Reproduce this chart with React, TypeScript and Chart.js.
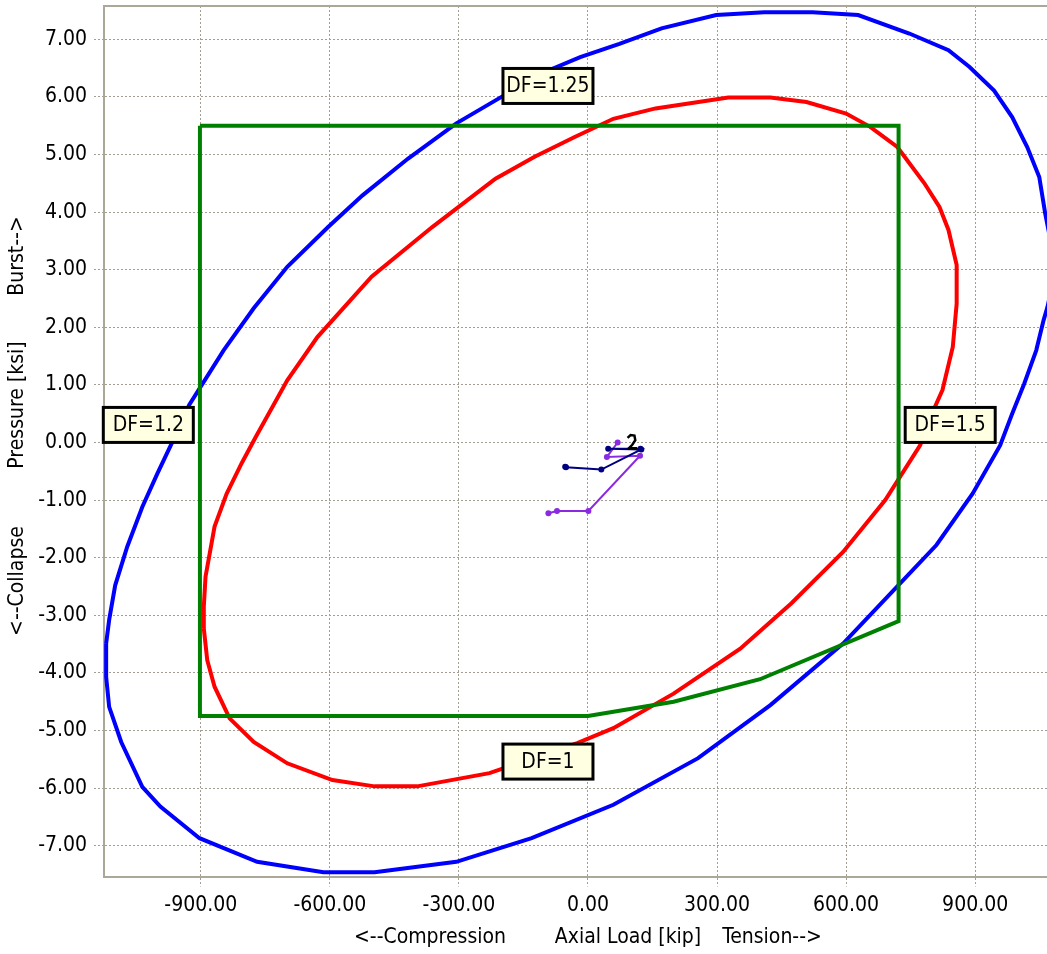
import React, { useEffect, useRef } from 'react';
import { Chart, registerables } from 'chart.js';

Chart.register(...registerables);

// ---------- axis ticks / ranges ----------
const xTicks = [-900, -600, -300, 0, 300, 600, 900];
const yTicks = [-7, -6, -5, -4, -3, -2, -1, 0, 1, 2, 3, 4, 5, 6, 7];
const xMin = -1125;
const xMax = 1067;
const yMin = -7.535;
const yMax = 7.578;

// ---------- series ----------
const blueEnvelope: [number, number][] = [
  [-1120, -3.49], [-1113, -3.08], [-1099, -2.48], [-1071, -1.81], [-1036, -1.12], [-1001, -0.54],
  [-966, 0.01], [-927, 0.65], [-847, 1.6], [-777, 2.33], [-699, 3.05], [-604, 3.74], [-524, 4.29],
  [-418, 4.93], [-306, 5.54], [-201, 6.0], [-117, 6.38], [-18, 6.69], [73, 6.92], [171, 7.19],
  [298, 7.42], [410, 7.47], [522, 7.47], [628, 7.42], [747, 7.1], [838, 6.81], [887, 6.52],
  [944, 6.11], [986, 5.65], [1021, 5.13], [1049, 4.61], [1063, 3.97], [1078, 3.4], [1081, 2.8],
  [1068, 2.35], [1059, 2.12], [1042, 1.6], [1014, 1.02], [986, 0.5], [958, -0.05], [894, -0.89],
  [810, -1.78], [719, -2.5], [593, -3.49], [424, -4.56], [256, -5.48], [59, -6.29], [-131, -6.87],
  [-306, -7.28], [-496, -7.46], [-615, -7.46], [-769, -7.28], [-903, -6.87], [-994, -6.32],
  [-1036, -5.98], [-1085, -5.2], [-1113, -4.59], [-1120, -4.07], [-1120, -3.49],
];

const redEnvelope: [number, number][] = [
  [-893, -3.23], [-893, -2.85], [-889, -2.33], [-868, -1.46], [-840, -0.89], [-805, -0.36],
  [-772, 0.1], [-699, 1.08], [-629, 1.83], [-503, 2.88], [-362, 3.74], [-215, 4.58], [-124, 4.96],
  [-32, 5.3], [59, 5.62], [157, 5.8], [326, 5.99], [424, 5.99], [508, 5.91], [600, 5.71],
  [656, 5.48], [719, 5.13], [782, 4.5], [817, 4.09], [838, 3.69], [857, 3.08], [857, 2.41],
  [848, 1.66], [824, 0.91], [803, 0.56], [772, -0.05], [691, -1.0], [593, -1.9], [473, -2.79],
  [354, -3.58], [199, -4.36], [59, -4.96], [-25, -5.22], [-229, -5.74], [-397, -5.97],
  [-496, -5.97], [-594, -5.86], [-699, -5.57], [-777, -5.2], [-833, -4.79], [-868, -4.24],
  [-885, -3.78], [-893, -3.23],
];

const greenLimits: [number, number][] = [
  [-902, 5.5], [722, 5.5], [722, -3.1], [400, -4.11], [199, -4.5], [0, -4.75], [-902, -4.75], [-902, 5.5],
];

const navyLoads: [number, number][] = [
  [-53, -0.42], [-51, -0.43], [31, -0.47], [124, -0.12], [47, -0.11], [122, -0.11],
];

const purpleLoads: [number, number][] = [
  [69, 0.0], [44, -0.25], [121, -0.23], [1, -1.19], [-72, -1.19], [-92, -1.23],
];

const blackMark: [number, number][] = [
  [92, 0.08], [99, 0.13], [108, 0.12], [110, 0.04], [103, -0.04], [95, -0.1], [114, -0.1],
];

// ---------- annotation labels ----------
const dfLabels = ['DF=1.25', 'DF=1.2', 'DF=1.5', 'DF=1'];
const dfLabelX = [-93, -1022, 842, -93];
const dfLabelY = [6.19, 0.305, 0.305, -5.54];

const xTitleParts = ['<--Compression', 'Axial Load [kip]', 'Tension-->'];
const yTitleParts = ['<--Collapse', 'Pressure [ksi]', 'Burst-->'];

const FONT = '"DejaVu Sans Condensed", "DejaVu Sans", sans-serif';
const GRID = '#A29E92';
const AXIS = '#ACA899';

const toPts = (a: [number, number][]) => a.map(([x, y]) => ({ x, y }));

const decorPlugin = {
  id: 'decor',
  afterDatasetsDraw(chart: any) {
    const { ctx, chartArea, scales } = chart;
    ctx.save();
    // top border
    ctx.strokeStyle = AXIS;
    ctx.lineWidth = 2;
    ctx.beginPath();
    ctx.moveTo(chartArea.left, chartArea.top);
    ctx.lineTo(chartArea.right, chartArea.top);
    ctx.stroke();

    // DF labels
    ctx.font = `21px ${FONT}`;
    ctx.textAlign = 'center';
    ctx.textBaseline = 'middle';
    dfLabels.forEach((t, i) => {
      const cx = scales.x.getPixelForValue(dfLabelX[i]);
      const cy = scales.y.getPixelForValue(dfLabelY[i]);
      const w = 90, h = 35;
      ctx.fillStyle = '#FFFFE1';
      ctx.fillRect(cx - w / 2, cy - h / 2, w, h);
      ctx.strokeStyle = '#000';
      ctx.lineWidth = 3;
      ctx.strokeRect(cx - w / 2, cy - h / 2, w, h);
      ctx.fillStyle = '#000';
      ctx.fillText(t, cx, cy + 1);
    });
    ctx.restore();
  },
  afterDraw(chart: any) {
    const { ctx } = chart;
    ctx.save();
    ctx.font = `21px ${FONT}`;
    ctx.fillStyle = '#000';
    ctx.textAlign = 'center';
    ctx.textBaseline = 'middle';
    const xc = [430, 628, 772];
    xTitleParts.forEach((t, i) => ctx.fillText(t, xc[i], 938));
    const yc = [581, 405, 256];
    yTitleParts.forEach((t, i) => {
      ctx.save();
      ctx.translate(18, yc[i]);
      ctx.rotate(-Math.PI / 2);
      ctx.fillText(t, 0, 0);
      ctx.restore();
    });
    ctx.restore();
  },
};

export default function App() {
  const ref = useRef<HTMLCanvasElement>(null);
  useEffect(() => {
    document.body.style.margin = '0';
    const ctx = ref.current!.getContext('2d')!;
    const line = (data: [number, number][], color: string, width: number, radius = 0) => ({
      data: toPts(data),
      showLine: true,
      borderColor: color,
      backgroundColor: color,
      borderWidth: width,
      pointRadius: radius,
      pointBorderWidth: 0,
      pointHoverRadius: radius,
      tension: 0,
      fill: false,
    });
    const chart = new Chart(ctx, {
      type: 'scatter',
      data: {
        datasets: [
          line(blackMark, '#000000', 2.5),
          line(navyLoads, '#000080', 2, 3),
          line(purpleLoads, '#8A2BE2', 2, 3),
          line(greenLimits, '#008000', 4),
          line(redEnvelope, '#FF0000', 4),
          line(blueEnvelope, '#0000FF', 4),
        ] as any,
      },
      options: {
        responsive: false,
        animation: false,
        devicePixelRatio: 1,
        layout: { autoPadding: false, padding: { top: 6, left: 0, right: 0, bottom: 0 } },
        plugins: { legend: { display: false }, tooltip: { enabled: false } },
        scales: {
          x: {
            type: 'linear',
            min: xMin,
            max: xMax,
            afterBuildTicks: (s: any) => { s.ticks = xTicks.map((v) => ({ value: v })); },
            afterFit: (s: any) => { s.height = 77.5; s.paddingLeft = 0; s.paddingRight = 0; },
            grid: { color: GRID, lineWidth: 1, tickLength: 10, tickColor: GRID, tickBorderDash: [2, 2] },
            border: { display: true, color: AXIS, width: 2, dash: [2, 2] },
            ticks: {
              font: { family: FONT, size: 21 },
              color: '#000',
              padding: 6,
              maxRotation: 0,
              autoSkip: false,
              callback: (v: any) => Number(v).toFixed(2),
            },
          },
          y: {
            type: 'linear',
            min: yMin,
            max: yMax,
            afterBuildTicks: (s: any) => { s.ticks = yTicks.map((v) => ({ value: v })); },
            afterFit: (s: any) => { s.width = 104; s.paddingTop = 0; s.paddingBottom = 0; },
            grid: { color: GRID, lineWidth: 1, tickLength: 10, tickColor: GRID, tickBorderDash: [2, 2] },
            border: { display: true, color: AXIS, width: 2, dash: [2, 2] },
            ticks: {
              font: { family: FONT, size: 21 },
              color: '#000',
              padding: 7,
              autoSkip: false,
              callback: (v: any) => Number(v).toFixed(2),
            },
          },
        },
      } as any,
      plugins: [decorPlugin],
    });
    return () => chart.destroy();
  }, []);
  return (
    <div style={{ position: 'absolute', left: 0, top: 0, width: 1047, height: 954, background: '#fff' }}>
      <canvas ref={ref} width={1047} height={954} style={{ display: 'block' }} />
    </div>
  );
}
